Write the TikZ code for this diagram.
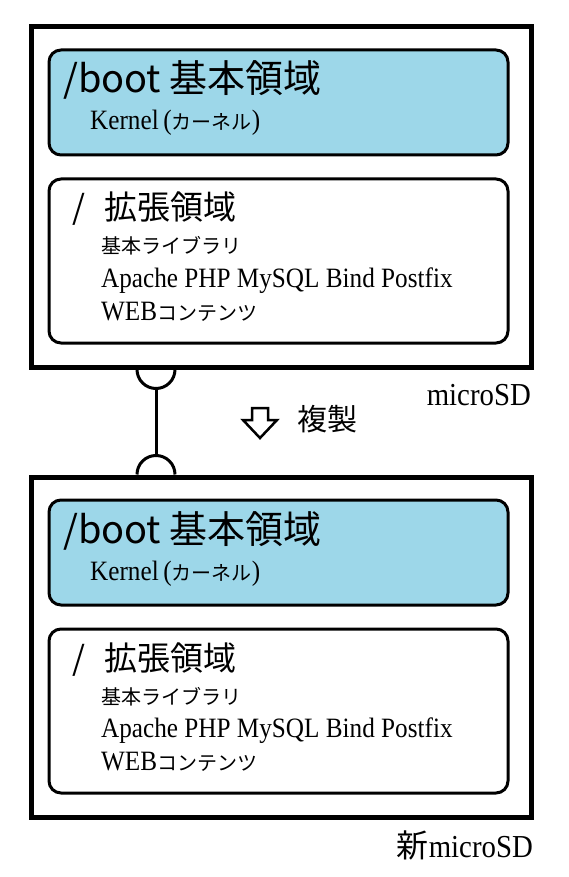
\documentclass[tikz,border=0pt]{standalone}
\usepackage{fontspec}
\setmainfont[FakeStretch=0.9]{Liberation Serif}
\newfontfamily\jp{Noto Sans CJK JP}
\usepackage{tikz}
\usetikzlibrary{positioning}
\definecolor{bootblue}{RGB}{157,215,233}
\newcommand\kana[1]{{\jp\fontsize{20pt}{20pt}\selectfont #1}}

\begin{document}
\begin{tikzpicture}[x=1pt, y=-1pt,
      card/.style={draw, line width=5pt, minimum width=500pt,
        minimum height=340pt, inner sep=0pt},
      part/.style={draw, line width=3pt, rounded corners=12pt,
        minimum width=459pt, inner sep=0pt},
      head/.style={anchor=base west, inner sep=0pt,
        font=\jp\fontsize{38pt}{38pt}\selectfont},
      subhead/.style={head, font=\jp\fontsize{33pt}{33pt}\selectfont},
      entry/.style={anchor=base west, inner sep=0pt,
        font=\fontsize{28pt}{28pt}\selectfont},
      cardname/.style={anchor=base east, inner sep=0pt,
        font=\fontsize{32pt}{32pt}\selectfont},
      link/.style={line width=3pt},
      hollow/.style={line width=2.5pt, line join=miter}
    ]
    \fill[white] (0,0) rectangle (569,877);
    \useasboundingbox (0,0) rectangle (569,877);

    % original card
    \node[card] (card1) at (281,197) {};
    \node[part, fill=bootblue, minimum height=105pt] (boot1) at (278.5,102.5) {};
    \node[part, minimum height=164pt] (root1) at (278.5,261) {};
    \node[head] (boothead1) at (63,93) {/boot 基本領域};
    \node[entry] (kernel1) at (90,130) {Kernel\,(\kana{カーネル})};
    \node[subhead] (roothead1) at (72,220) {/\hspace{0.6em}拡張領域};
    \node[entry] (libs1) at (101,254) {\kana{基本ライブラリ}};
    \node[entry] (apps1) at (101,287) {Apache PHP MySQL Bind Postfix};
    \node[entry] (web1) at (101,320) {WEB\kana{コンテンツ}};
    \node[cardname] (name1) at (531,405) {microSD};

    % copied card
    \node[card] (card2) at (281,647) {};
    \node[part, fill=bootblue, minimum height=105pt] (boot2) at (278.5,552.5) {};
    \node[part, minimum height=164pt] (root2) at (278.5,711) {};
    \node[head] (boothead2) at (63,543) {/boot 基本領域};
    \node[entry] (kernel2) at (90,580) {Kernel\,(\kana{カーネル})};
    \node[subhead] (roothead2) at (72,670) {/\hspace{0.6em}拡張領域};
    \node[entry] (libs2) at (101,704) {\kana{基本ライブラリ}};
    \node[entry] (apps2) at (101,737) {Apache PHP MySQL Bind Postfix};
    \node[entry] (web2) at (101,770) {WEB\kana{コンテンツ}};
    \node[cardname] (name2) at (533,857) {{\jp 新}microSD};

    % socket link between the cards
    \coordinate (plug) at (156,0);
    \coordinate (sock1) at (card1.south -| plug);
    \coordinate (sock2) at (card2.north -| plug);
    \draw[link] (sock1) ++(-19pt,0) arc[start angle=180, end angle=360, radius=19pt];
    \draw[link] (sock2) ++(-19pt,0) arc[start angle=180, end angle=0, radius=19pt];
    \draw[link] ([yshift=-19pt]sock1) -- ([yshift=19pt]sock2);

    % copy arrow
    \coordinate (copytip) at (260,438);
    \draw[hollow] (copytip) -- ++(-17,-18) -- ++(9,0) -- ++(0,-12)
      -- ++(16,0) -- ++(0,12) -- ++(9,0) -- cycle;
    \node[anchor=base west, inner sep=0pt, font=\jp\fontsize{30pt}{30pt}\selectfont]
      (copytext) at (297,430) {複製};
  \end{tikzpicture}
\end{document}
